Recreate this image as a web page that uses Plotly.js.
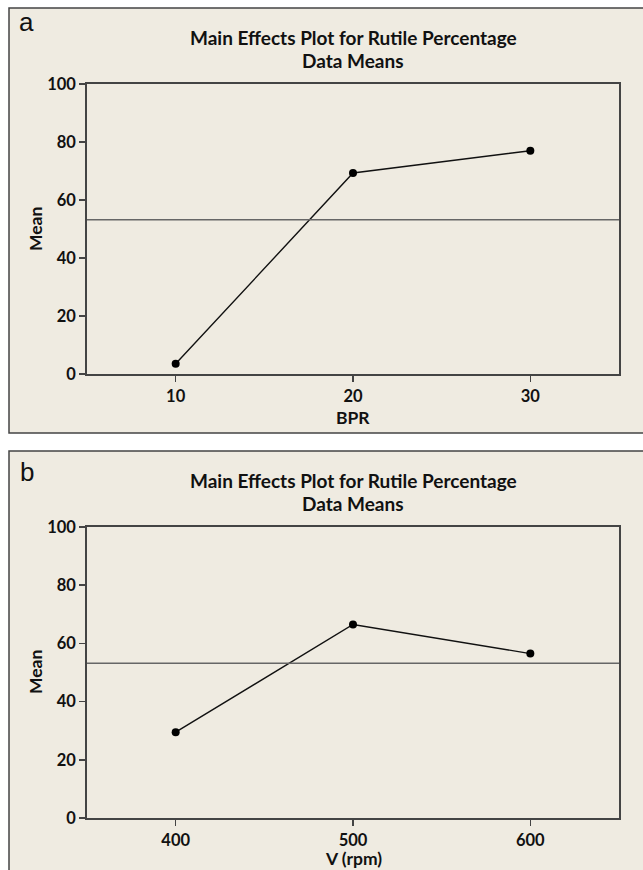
<!DOCTYPE html>
<html>
<head>
<meta charset="utf-8">
<script src="https://cdn.plot.ly/plotly-3.0.1.min.js"></script>
<style>html,body{margin:0;padding:0;background:#fff}#chart{width:643px;height:870px}</style>
</head>
<body>
<div id="chart"></div>
<script>
// Data
const bprLevels = [10, 20, 30];
const bprMeans = [3.5, 69.3, 77.0];
const speedLevels = [400, 500, 600];
const speedMeans = [29.5, 66.5, 56.5];
const grandMean = 53.2;
const yTicks = [0, 20, 40, 60, 80, 100];
const chartTitle = 'Main Effects Plot for Rutile Percentage';
const chartSubtitle = 'Data Means';

const W = 643, H = 870;
const px = v => v / W;
const py = v => 1 - v / H;

const FONT = 'Lato, "Open Sans", sans-serif';
const tickFont = {family: FONT, size: 16.5, color: '#111', weight: 700};
const bold = s => '<b>' + s + '</b>';

function xAxis(domain, range, ticks, anchor) {
  return {
    domain: domain, range: range, anchor: anchor,
    tickvals: ticks, ticktext: ticks.map(v => bold(String(v))),
    ticks: 'outside', ticklen: 6, tickwidth: 1.5, tickcolor: '#444',
    showline: true, linecolor: '#444', linewidth: 1.8, mirror: true,
    showgrid: false, zeroline: false,
    tickfont: tickFont,
    fixedrange: true
  };
}
function yAxis(domain, anchor) {
  return {
    domain: domain, range: [0, 100], anchor: anchor,
    tickvals: yTicks, ticktext: yTicks.map(v => bold(String(v))),
    ticks: 'outside', ticklen: 6, tickwidth: 1.5, tickcolor: '#444',
    showline: true, linecolor: '#444', linewidth: 1.8, mirror: true,
    showgrid: false, zeroline: false,
    tickfont: tickFont,
    fixedrange: true
  };
}

const xDom = [px(87), px(619)];
const yDomA = [py(374), py(84)];
const yDomB = [py(818), py(527)];

const traces = [
  {x: bprLevels, y: bprMeans, xaxis: 'x', yaxis: 'y', type: 'scatter', mode: 'lines+markers',
   line: {color: '#111', width: 1.4}, marker: {color: '#000', size: 8}, hoverinfo: 'x+y'},
  {x: speedLevels, y: speedMeans, xaxis: 'x2', yaxis: 'y2', type: 'scatter', mode: 'lines+markers',
   line: {color: '#111', width: 1.4}, marker: {color: '#000', size: 8}, hoverinfo: 'x+y'}
];

const panelFill = '#efebe1';
const shapes = [
  {type: 'rect', xref: 'paper', yref: 'paper', x0: px(9), x1: px(660), y0: py(433), y1: py(8),
   fillcolor: panelFill, line: {color: '#444', width: 1.5}, layer: 'below'},
  {type: 'rect', xref: 'paper', yref: 'paper', x0: px(9), x1: px(660), y0: py(890), y1: py(451),
   fillcolor: panelFill, line: {color: '#444', width: 1.5}, layer: 'below'},
  {type: 'line', xref: 'x domain', yref: 'y', x0: 0, x1: 1, y0: grandMean, y1: grandMean,
   line: {color: '#666', width: 1.6}},
  {type: 'line', xref: 'x2 domain', yref: 'y2', x0: 0, x1: 1, y0: grandMean, y1: grandMean,
   line: {color: '#666', width: 1.6}}
];

const titleFont = {family: FONT, size: 19, color: '#111'};
const axFont = {family: FONT, size: 17.5, color: '#111'};
const letterFont = {family: 'Liberation Sans, Arial, sans-serif', size: 26, color: '#111'};
const ann = (text, x, y, font, extra) => Object.assign({
  text: text, xref: 'paper', yref: 'paper', x: px(x), y: py(y),
  xanchor: 'center', yanchor: 'middle', showarrow: false, font: font
}, extra || {});

const annotations = [
  ann('a', 17, 22, letterFont, {xanchor: 'left'}),
  ann('b', 18, 472, letterFont, {xanchor: 'left'}),
  ann(bold(chartTitle), 353, 37, titleFont),
  ann(bold(chartSubtitle), 353, 60, titleFont),
  ann(bold(chartTitle), 353, 480, titleFont),
  ann(bold(chartSubtitle), 353, 503, titleFont),
  ann(bold('Mean'), 35, 229, axFont, {textangle: -90}),
  ann(bold('Mean'), 35, 672, axFont, {textangle: -90}),
  ann(bold('BPR'), 353, 418, axFont),
  ann(bold('V (rpm)'), 353, 858, axFont)
];

const layout = {
  width: W, height: H,
  margin: {l: 0, r: 0, t: 0, b: 0},
  paper_bgcolor: '#ffffff', plot_bgcolor: '#ffffff',
  showlegend: false,
  xaxis: xAxis(xDom, [5, 35], bprLevels, 'y'),
  yaxis: yAxis(yDomA, 'x'),
  xaxis2: xAxis(xDom, [350, 650], speedLevels, 'y2'),
  yaxis2: yAxis(yDomB, 'x2'),
  shapes: shapes,
  annotations: annotations
};

Plotly.newPlot('chart', traces, layout, {displayModeBar: false, staticPlot: true});
</script>
</body>
</html>
